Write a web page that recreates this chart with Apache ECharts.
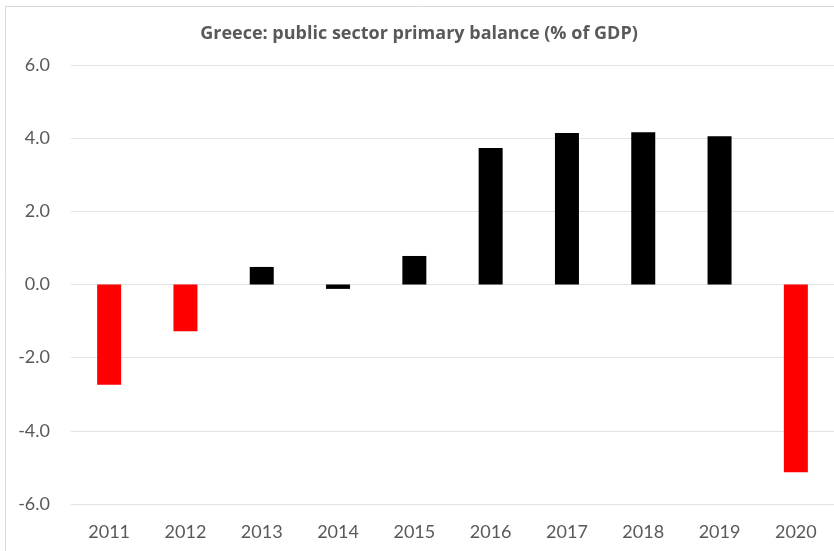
<!DOCTYPE html>
<html>
<head>
<meta charset="utf-8">
<script src="https://cdn.jsdelivr.net/npm/echarts@6/dist/echarts.min.js"></script>
<style>
  html, body { margin: 0; padding: 0; background: #ffffff; }
  #chart { width: 834px; height: 551px; }
</style>
</head>
<body>
<div id="chart"></div>
<script>
// Greece primary balance, % of GDP
const years = ['2011', '2012', '2013', '2014', '2015', '2016', '2017', '2018', '2019', '2020'];
const balance = [-2.74, -1.28, 0.48, -0.12, 0.78, 3.73, 4.14, 4.16, 4.05, -5.13];
// years drawn in red (deficit years 2011, 2012, 2020)
const redYears = ['2011', '2012', '2020'];
const yTicks = { min: -6, max: 6, step: 2 };

const textColor = '#595959';
const font = 'Lato, "Open Sans", sans-serif';

const chart = echarts.init(document.getElementById('chart'), null, { renderer: 'canvas' });

chart.setOption({
  backgroundColor: '#ffffff',
  animation: false,
  title: {
    text: 'Greece: public sector primary balance (% of GDP)',
    left: 414,
    top: 20,
    textAlign: 'center',
    textStyle: { color: textColor, fontFamily: '"Open Sans", sans-serif', fontWeight: 'bold', fontSize: 18 }
  },
  graphic: [{
    type: 'rect',
    shape: { x: 5.5, y: 6.5, width: 900, height: 600 },
    style: { fill: 'none', stroke: '#d9d9d9', lineWidth: 1 },
    silent: true,
    z: -1
  }],
  grid: { left: 71, right: 0, top: 65, bottom: 47, containLabel: false },
  xAxis: {
    type: 'category',
    data: years,
    axisLine: { show: false },
    axisTick: { show: false },
    axisLabel: { color: textColor, fontFamily: font, fontSize: 18, margin: 19 },
    splitLine: { show: false }
  },
  yAxis: {
    type: 'value',
    min: yTicks.min,
    max: yTicks.max,
    interval: yTicks.step,
    axisLine: { show: false },
    axisTick: { show: false },
    axisLabel: {
      color: textColor, fontFamily: font, fontSize: 18, margin: 21,
      formatter: v => v.toFixed(1)
    },
    splitLine: { lineStyle: { color: '#e3e3e3', width: 1 } }
  },
  series: [{
    type: 'bar',
    data: balance.map((v, i) => ({
      value: v,
      itemStyle: { color: redYears.includes(years[i]) ? '#ff0000' : '#000000' }
    })),
    barWidth: 24
  }]
});
</script>
</body>
</html>
